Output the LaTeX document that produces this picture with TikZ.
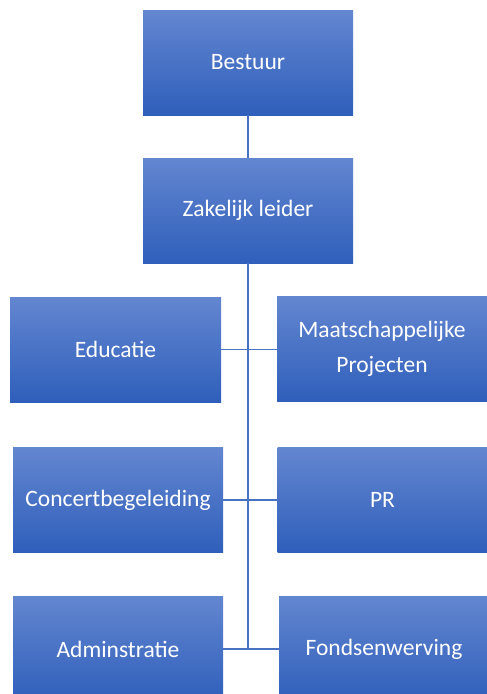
\documentclass[tikz,border=0pt]{standalone}
\usepackage{fontspec}
\setmainfont{Carlito}
\usepackage{tikz}

\definecolor{boxtop}{RGB}{99,134,208}
\definecolor{boxbot}{RGB}{47,95,187}
\definecolor{linkblue}{RGB}{72,115,195}

\tikzset{
  unit/.style={rectangle,minimum width=210pt,minimum height=105pt,inner sep=0pt,
    top color=boxtop,bottom color=boxbot,draw=none,text=white,align=center,
    font=\fontsize{23.5}{35}\selectfont},
  link/.style={draw=linkblue,line width=1.5pt}
}

\begin{document}
\begin{tikzpicture}[x=1pt,y=-1pt]
\useasboundingbox (0,0) rectangle (487,694);
\clip (0,0) rectangle (487,694);
\fill[white] (0,0) rectangle (487,694);

\node [unit] (bestuur) at (248,62.5) {Bestuur};
\node [unit] (leider) at (248,210.5) {Zakelijk leider};
\node [unit,minimum width=211pt] (educatie) at (115.5,349.5) {Educatie};
\node [unit] (maatsch) at (382,349) {Maatschappelijke\\Projecten};
\node [unit] (concert) at (118,500) {Concertbegeleiding};
\node [unit] (pr) at (382.5,500) {PR};
\node [unit] (admin) at (118,649) {Adminstratie};
\node [unit] (fonds) at (384,649) {Fondsenwerving};

\draw [link] (bestuur.south) -- (leider.north);
\draw [link] (leider.south) -- (leider.south |- admin.east);
\draw [link] (educatie.east) -- (maatsch.west |- educatie.east);
\draw [link] (concert.east) -- (pr.west);
\draw [link] (admin.east) -- (fonds.west);
\end{tikzpicture}
\end{document}
